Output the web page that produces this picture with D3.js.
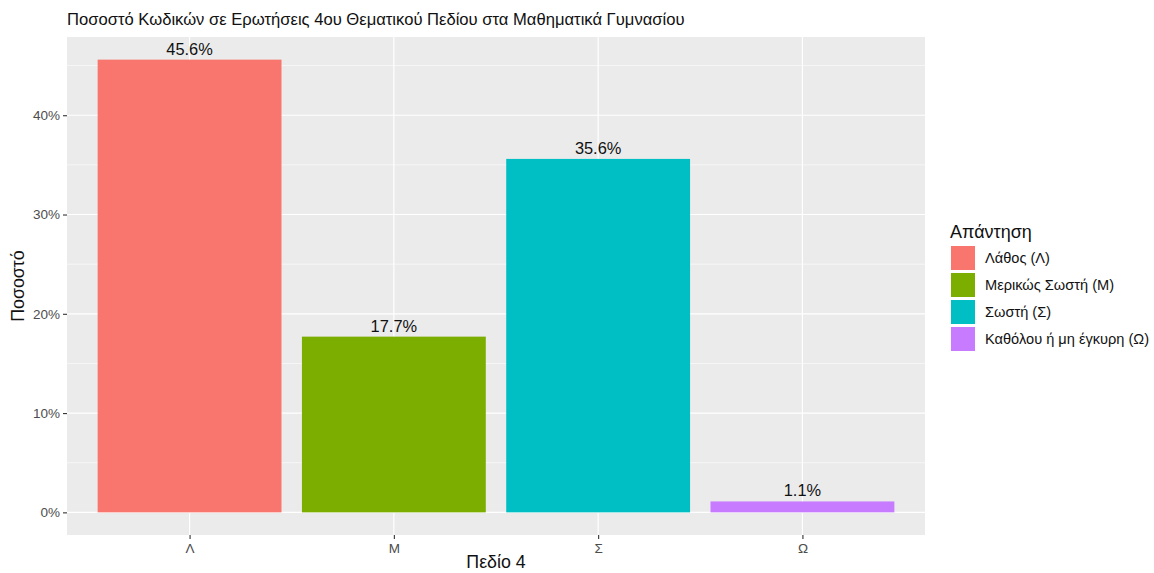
<!DOCTYPE html>
<html>
<head>
<meta charset="utf-8">
<script src="https://cdn.jsdelivr.net/npm/d3@7"></script>
<style>
  body { margin: 0; background: #fff; }
  svg { font-family: "Liberation Sans", Arial, Helvetica, sans-serif; }
</style>
</head>
<body>
<svg width="1154" height="573"></svg>
<script>
// data
const categories = ['Λ', 'Μ', 'Σ', 'Ω'];
const values = [45.6, 17.7, 35.6, 1.1];
const legendLabels = ['Λάθος (Λ)', 'Μερικώς Σωστή (Μ)', 'Σωστή (Σ)', 'Καθόλου ή μη έγκυρη (Ω)'];
const colors = ['#F8766D', '#7CAE00', '#00BFC4', '#C77CFF'];
const yTicks = [0, 10, 20, 30, 40];
const yMinor = [5, 15, 25, 35, 45];

const data = categories.map((c, i) => ({ cat: c, value: values[i], color: colors[i] }));

const svg = d3.select('svg');
const panel = { left: 67, right: 925, top: 37, bottom: 535 };

// discrete x scale with ggplot-like 0.6 expansion
const step = (panel.right - panel.left) / (categories.length - 1 + 1.2);
const x = d3.scalePoint()
  .domain(categories)
  .range([panel.left + 0.6 * step, panel.right - 0.6 * step]);
const barW = step * 0.9;

const maxV = d3.max(values);
const y = d3.scaleLinear()
  .domain([-0.05 * maxV, maxV * 1.05])
  .range([panel.bottom, panel.top]);

// panel background
svg.append('rect')
  .attr('x', panel.left).attr('y', panel.top)
  .attr('width', panel.right - panel.left).attr('height', panel.bottom - panel.top)
  .attr('fill', '#EBEBEB');

// minor grid
svg.selectAll('.minor')
  .data(yMinor)
  .join('line')
  .attr('x1', panel.left).attr('x2', panel.right)
  .attr('y1', d => y(d)).attr('y2', d => y(d))
  .attr('stroke', '#fff').attr('stroke-width', 0.6);

// major grid
svg.selectAll('.major')
  .data(yTicks)
  .join('line')
  .attr('x1', panel.left).attr('x2', panel.right)
  .attr('y1', d => y(d)).attr('y2', d => y(d))
  .attr('stroke', '#fff').attr('stroke-width', 1.2);

svg.selectAll('.vgrid')
  .data(categories)
  .join('line')
  .attr('x1', d => x(d)).attr('x2', d => x(d))
  .attr('y1', panel.top).attr('y2', panel.bottom)
  .attr('stroke', '#fff').attr('stroke-width', 1.2);

// bars
svg.selectAll('.bar')
  .data(data)
  .join('rect')
  .attr('x', d => x(d.cat) - barW / 2)
  .attr('width', barW)
  .attr('y', d => y(d.value))
  .attr('height', d => y(0) - y(d.value))
  .attr('fill', d => d.color);

// bar labels
svg.selectAll('.lbl')
  .data(data)
  .join('text')
  .attr('x', d => x(d.cat))
  .attr('y', d => y(d.value) - 5)
  .attr('text-anchor', 'middle')
  .attr('font-size', 16.4)
  .attr('fill', '#111')
  .text(d => d.value.toFixed(1) + '%');

// y axis
const yAxis = svg.append('g')
  .attr('transform', `translate(${panel.left},0)`)
  .call(d3.axisLeft(y).tickValues(yTicks).tickFormat(d => d + '%').tickSize(4).tickPadding(3));
yAxis.select('.domain').remove();
yAxis.selectAll('line').attr('stroke', '#333').attr('stroke-width', 1.1);
yAxis.selectAll('text').attr('fill', '#4D4D4D').attr('font-size', 13.5)
  .attr('font-family', '"Liberation Sans", Arial, sans-serif');

// x axis
const xAxis = svg.append('g')
  .attr('transform', `translate(0,${panel.bottom})`)
  .call(d3.axisBottom(x).tickSize(4).tickPadding(4));
xAxis.select('.domain').remove();
xAxis.selectAll('line').attr('stroke', '#333').attr('stroke-width', 1.1);
xAxis.selectAll('text').attr('fill', '#4D4D4D').attr('font-size', 13.5)
  .attr('font-family', '"Liberation Sans", Arial, sans-serif');

// titles
svg.append('text')
  .attr('x', panel.left).attr('y', 25)
  .attr('font-size', 16.6).attr('fill', '#111')
  .text('Ποσοστό Κωδικών σε Ερωτήσεις 4ου Θεματικού Πεδίου στα Μαθηματικά Γυμνασίου');

svg.append('text')
  .attr('x', (panel.left + panel.right) / 2).attr('y', 568)
  .attr('text-anchor', 'middle')
  .attr('font-size', 17.8).attr('fill', '#111')
  .text('Πεδίο 4');

svg.append('text')
  .attr('transform', `translate(24,${(panel.top + panel.bottom) / 2}) rotate(-90)`)
  .attr('text-anchor', 'middle')
  .attr('font-size', 17.8).attr('fill', '#111')
  .text('Ποσοστό');

// legend
const legend = svg.append('g').attr('transform', 'translate(951,0)');
legend.append('text')
  .attr('x', -1).attr('y', 238)
  .attr('font-size', 18).attr('fill', '#111')
  .text('Απάντηση');

const keys = legend.selectAll('.key')
  .data(legendLabels)
  .join('g')
  .attr('transform', (d, i) => `translate(0,${246 + i * 27})`);
keys.append('rect')
  .attr('width', 24).attr('height', 24)
  .attr('fill', (d, i) => colors[i]);
keys.append('text')
  .attr('x', 34).attr('y', 17)
  .attr('font-size', 14.6).attr('fill', '#111')
  .text(d => d);
</script>
</body>
</html>
